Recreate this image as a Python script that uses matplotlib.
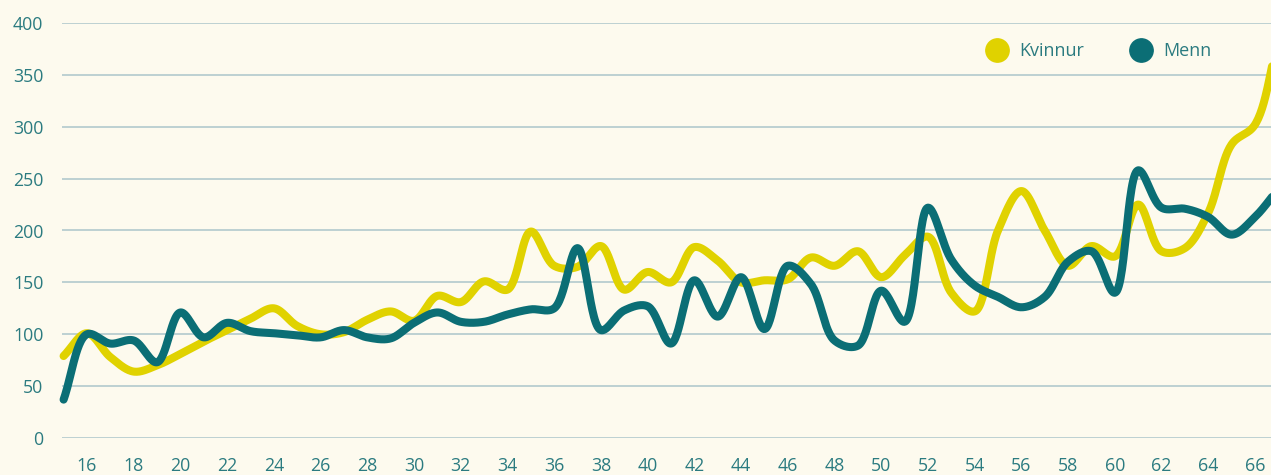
import numpy as np
import matplotlib
matplotlib.use("Agg")
import matplotlib.pyplot as plt
from matplotlib.lines import Line2D

# age 15..67
ages = np.arange(15, 68)

kvinnur = [79, 101, 78, 64, 70, 81, 93, 104, 115, 125,
           108, 100, 102, 114, 122, 113, 137, 131, 151, 143,
           199, 166, 165, 185, 143, 160, 150, 184, 171, 150,
           152, 153, 174, 166, 180, 155, 176, 194, 140, 122,
           200, 238, 200, 166, 185, 175, 225, 180, 183, 217,
           283, 302, 385]

menn = [37, 100, 91, 94, 73, 121, 97, 111, 103, 101,
        99, 97, 104, 97, 96, 111, 121, 112, 112, 119,
        124, 125, 183, 104, 123, 127, 91, 152, 117, 155,
        105, 166, 148, 94, 89, 142, 112, 222, 172, 147,
        136, 126, 136, 170, 180, 140, 258, 222, 221, 213,
        196, 213, 240]

xticks = list(range(16, 67, 2))
yticks = list(range(0, 401, 50))

bg = "#fdfaee"
yellow = "#e0d200"
teal = "#0b6e75"
textcol = "#2b7b80"
gridcol = "#b8cdd0"

plt.rcParams["font.family"] = ["Open Sans", "DejaVu Sans"]

# pixels per unit, used so the spline is smoothed in screen space
sx, sy = 23.36, 1.038


def catmull_rom(x, y, n=30, alpha=0.5):
    p = np.c_[np.asarray(x, float) * sx, np.asarray(y, float) * sy]
    p = np.vstack([2 * p[0] - p[1], p, 2 * p[-1] - p[-2]])
    out = []
    for i in range(1, len(p) - 2):
        p0, p1, p2, p3 = p[i - 1], p[i], p[i + 1], p[i + 2]
        t0 = 0.0
        t1 = t0 + np.linalg.norm(p1 - p0) ** alpha
        t2 = t1 + np.linalg.norm(p2 - p1) ** alpha
        t3 = t2 + np.linalg.norm(p3 - p2) ** alpha
        t = np.linspace(t1, t2, n)[:, None]
        a1 = (t1 - t) / (t1 - t0) * p0 + (t - t0) / (t1 - t0) * p1
        a2 = (t2 - t) / (t2 - t1) * p1 + (t - t1) / (t2 - t1) * p2
        a3 = (t3 - t) / (t3 - t2) * p2 + (t - t2) / (t3 - t2) * p3
        b1 = (t2 - t) / (t2 - t0) * a1 + (t - t0) / (t2 - t0) * a2
        b2 = (t3 - t) / (t3 - t1) * a2 + (t - t1) / (t3 - t1) * a3
        c = (t2 - t) / (t2 - t1) * b1 + (t - t1) / (t2 - t1) * b2
        out.append(c if i == 1 else c[1:])
    c = np.vstack(out)
    return c[:, 0] / sx, c[:, 1] / sy


fig = plt.figure(figsize=(12.71, 4.75), dpi=100, facecolor=bg)
ax = fig.add_axes([62 / 1271, 1 - 438 / 475, 1 - 62 / 1271, 415 / 475])
ax.set_facecolor(bg)

for yt in yticks:
    ax.axhline(yt, color=gridcol, lw=1.3, zorder=1)

kx, ky = catmull_rom(ages, kvinnur)
mx, my = catmull_rom(ages, menn)
ax.plot(kx, ky, color=yellow, lw=5.8, solid_capstyle="round",
        solid_joinstyle="round", zorder=3, clip_on=False)
ax.plot(mx, my, color=teal, lw=5.8, solid_capstyle="round",
        solid_joinstyle="round", zorder=4, clip_on=False)

ax.set_xlim(15 - 1.6 / 23.36, 15 + (1271 - 63.6) / 23.36)
ax.set_ylim(0, 400)
ax.set_xticks(xticks)
ax.set_yticks(yticks)
ax.tick_params(length=0, colors=textcol, labelsize=12.8)
ax.tick_params(axis="x", pad=14)
ax.tick_params(axis="y", pad=13.5)
for s in ax.spines.values():
    s.set_visible(False)

handles = [Line2D([], [], ls="", marker="o", ms=16.8, color=yellow, label="Kvinnur"),
           Line2D([], [], ls="", marker="o", ms=16.8, color=teal, label="Menn")]
fig.legend(handles=handles, ncol=2, frameon=False, loc="center left",
           bbox_to_anchor=(969 / 1271, 1 - 51 / 475), bbox_transform=fig.transFigure,
           fontsize=13, labelcolor=textcol, handlelength=1.3, handletextpad=0.57,
           columnspacing=2.5, borderpad=0.4)

fig.savefig("out.png", dpi=100, facecolor=bg)
